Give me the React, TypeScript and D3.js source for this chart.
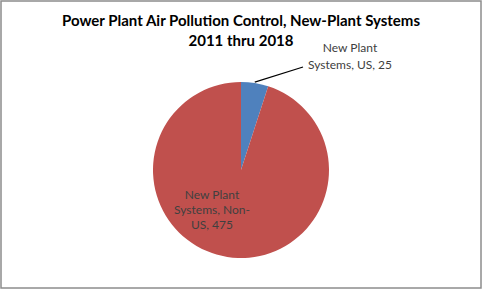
import React from "react";
import * as d3 from "d3";

const titleLines = ["Power Plant Air Pollution Control, New-Plant Systems", "2011 thru 2018"];
const categories = ["New Plant Systems, US", "New Plant Systems, Non-US"];
const values = [25, 475];
const colors = ["#4F81BD", "#C0504D"];

const W = 482, H = 289;
const cx = 241, cy = 170, R = 88;

export default function App() {
  const pie = d3.pie<number>().sort(null).value((d) => d);
  const arcs = pie(values);
  const arcGen = d3.arc<d3.PieArcDatum<number>>().innerRadius(0).outerRadius(R);
  const font = "Lato, 'Open Sans', sans-serif";
  const a0 = arcs[0];
  const mid0 = (a0.startAngle + a0.endAngle) / 2;
  const p0: [number, number] = [Math.sin(mid0) * R, -Math.cos(mid0) * R];
  return (
    <svg width={W} height={H} style={{ position: "absolute", left: 0, top: 0 }}>
      <rect x={1} y={1} width={W - 2} height={H - 2} fill="#fff" stroke="#8c8c8c" strokeWidth={1.5} />
      <text x={W / 2} y={26} textAnchor="middle" fontFamily={font} fontWeight="bold" fontSize={15} fill="#000">
        {titleLines[0]}
      </text>
      <text x={W / 2} y={46} textAnchor="middle" fontFamily={font} fontWeight="bold" fontSize={15} fill="#000">
        {titleLines[1]}
      </text>
      <g transform={`translate(${cx},${cy})`}>
        {arcs.map((a, i) => (
          <path key={i} d={arcGen(a) || ""} fill={colors[i]}>
            <title>{`${categories[i]}, ${values[i]}`}</title>
          </path>
        ))}
        <line x1={p0[0]} y1={p0[1] - 1} x2={62} y2={-103} stroke="#000" strokeWidth={1.2} />
      </g>
      <text fontFamily={font} fontSize={12} fill="#404040" textAnchor="middle">
        <tspan x={350} y={52}>New Plant</tspan>
        <tspan x={350} y={69}>{`Systems, US, ${values[0]}`}</tspan>
      </text>
      <text fontFamily={font} fontSize={12} fill="#404040" textAnchor="middle">
        <tspan x={212} y={199}>New Plant</tspan>
        <tspan x={212} y={214}>Systems, Non-</tspan>
        <tspan x={212} y={229}>{`US, ${values[1]}`}</tspan>
      </text>
    </svg>
  );
}
